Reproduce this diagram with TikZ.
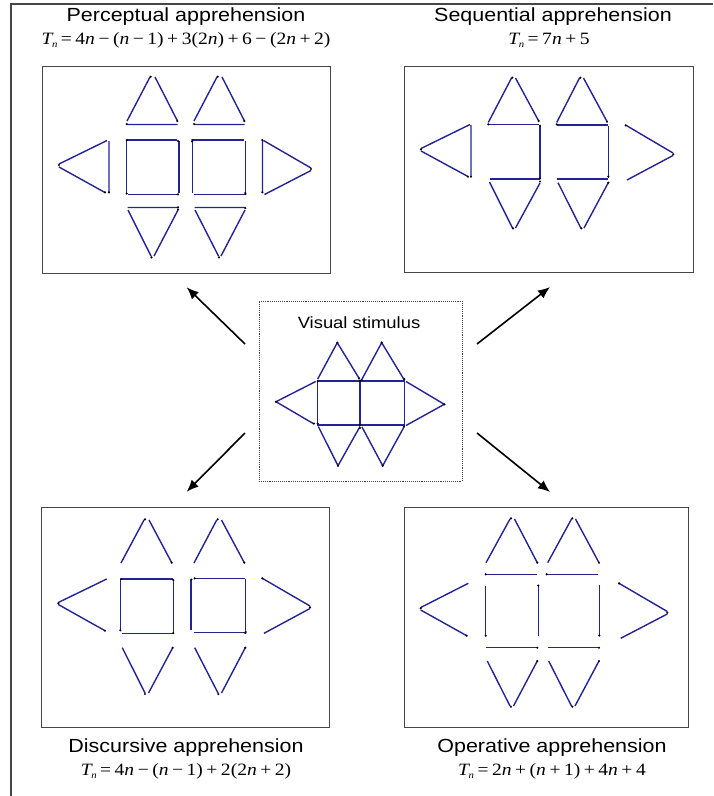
\documentclass[tikz,border=0pt]{standalone}
\usepackage{fontspec}
\setmainfont{Liberation Sans}
\newfontfamily\tms{Liberation Serif}
\usetikzlibrary{arrows.meta}
\newcommand{\vv}[1]{\textit{#1}}
\newcommand{\Tn}{\textit{T}\kern-0.08em\raisebox{-0.4ex}{\scalebox{0.55}{\textit{n}}}}
\newcommand{\op}[1]{\hspace{0.18em}#1\hspace{0.18em}}
\newcommand{\wide}[1]{\scalebox{1.13}[1]{#1}}
\definecolor{navy}{RGB}{35,35,150}
\definecolor{framegray}{RGB}{70,70,70}
\tikzset{
  seg/.style={draw=navy,line width=1.4pt,line cap=butt},
  panel/.style={draw=framegray,line width=1pt,inner sep=0pt,outer sep=0pt},
  stim/.style={draw=framegray,line width=0.9pt,densely dotted,inner sep=0pt,outer sep=0pt},
  ttl/.style={font=\fontsize{19}{22}\selectfont,inner sep=0pt},
  frm/.style={font=\tms\fontsize{17.3}{20}\selectfont,inner sep=0pt},
  arr/.style={draw=black,line width=1.6pt,-{Latex[length=12pt,width=10pt]}},
  pt/.style={fill=black}
}
\begin{document}
\begin{tikzpicture}[x=1pt,y=-1pt]
\useasboundingbox (0,0) rectangle (713,796);
% outer frame (top and left edges)
\draw[draw=framegray,line width=1.4pt] (11,796) -- (11,4) -- (713,4);

% panels
\node[panel,minimum width=288pt,minimum height=207pt] (p1) at (186,169.5) {};
\node[panel,minimum width=289pt,minimum height=206pt] (p2) at (548.5,169) {};
\node[panel,minimum width=288pt,minimum height=220pt] (p3) at (185,617) {};
\node[panel,minimum width=284pt,minimum height=220pt] (p4) at (546,617) {};
\node[stim,minimum width=203pt,minimum height=180pt] (c) at (360.5,391) {};

% titles
\node[ttl] (t1) at (186,17) {\wide{Perceptual apprehension}};
\node[frm] (f1) at (186,40) {\wide{\Tn\op{=}4\vv{n}\op{−}(\vv{n}\op{−}1)\op{+}3(2\vv{n})\op{+}6\op{−}(2\vv{n}\op{+}2)}};
\node[ttl] (t2) at (553,17) {\wide{Sequential apprehension}};
\node[frm] (f2) at (549,40) {\wide{\Tn\op{=}7\vv{n}\op{+}5}};
\node[ttl] (t3) at (186,748) {\wide{Discursive apprehension}};
\node[frm] (f3) at (186,771) {\wide{\Tn\op{=}4\vv{n}\op{−}(\vv{n}\op{−}1)\op{+}2(2\vv{n}\op{+}2)}};
\node[ttl] (t4) at (552,748) {\wide{Operative apprehension}};
\node[frm] (f4) at (552,771) {\wide{\Tn\op{=}2\vv{n}\op{+}(\vv{n}\op{+}1)\op{+}4\vv{n}\op{+}4}};
\node[ttl,font=\fontsize{16.3}{19}\selectfont] (tc) at (359,323) {\wide{Visual stimulus}};

% arrows
\coordinate (a1s) at (245,344); \coordinate (a1e) at (186.7,287.3);
\coordinate (a2s) at (245,433); \coordinate (a2e) at (186.7,491.7);
\coordinate (a3s) at (477,344); \coordinate (a3e) at (550,287);
\coordinate (a4s) at (477,433); \coordinate (a4e) at (550,492);
\draw[arr] (a1s) -- (a1e);
\draw[arr] (a2s) -- (a2e);
\draw[arr] (a3s) -- (a3e);
\draw[arr] (a4s) -- (a4e);

% ---------- Perceptual ----------
\draw[seg] (150,77)--(127,121) (155,77)--(177.5,121) (127,124.5)--(177.5,124.5);
\draw[seg] (217,77)--(194,121) (222,77)--(244.5,121) (194,124.5)--(244.5,124.5);
\draw[seg] (127,140)--(177,140) (179,141)--(179,193) (128,194.5)--(178,194.5) (126.5,141)--(126.5,193);
\draw[seg] (193,140)--(244,140) (245.5,141)--(245.5,193) (194,194.5)--(245,194.5) (192.5,141)--(192.5,193);
\draw[seg] (127.5,207.5)--(177.5,207.5) (128,210)--(151,256) (178,210)--(154,256);
\draw[seg] (194.5,207.5)--(245,207.5) (195,210)--(218.5,256) (245,210)--(221,256);
\draw[seg] (59,164)--(107,140.5) (59,167)--(105,192.5) (109,141)--(109,192.5);
\draw[seg] (262.5,140.5)--(262.5,192.5) (263.5,140.5)--(311,168) (264.5,194.5)--(311,170.5);
\foreach \p in {(150.7,76.7),(126.7,124),(177.3,121),(217.7,76.7),(194,124),(244.3,121),(126.7,140),(178,141),(178,194.3),(126.7,193.5),(192.3,140),(192,141.5),(245.5,194),(245.3,193),(178,207.3),(178,209.5),(151.5,257.3),(245.3,208),(219,257.3),(59,165),(105,192.3),(109,192.3),(262.3,140),(262.3,192.3),(311,169)}
  \fill[pt] \p circle (1.2pt);

% ---------- Sequential ----------
\draw[seg] (421,148.5)--(470,124.5) (421,151)--(468,176.5) (471,125)--(471,176.7);
\draw[seg] (511.5,78)--(488.3,122.5) (515.5,78)--(538.7,121);
\draw[seg] (489,124.5)--(539,124.5) (540,126)--(540,178.5) (489.5,179)--(539.5,179);
\draw[seg] (489.5,182)--(512.5,228) (540,183)--(515.5,228);
\draw[seg] (579.5,78)--(556.7,122.5) (583.5,78)--(607,121.5);
\draw[seg] (557,125)--(607.5,125) (608.5,126)--(608.5,177.5) (557,179)--(607.5,179);
\draw[seg] (558,182.7)--(580.8,228) (608.3,182.7)--(584,228);
\draw[seg] (626,125.3)--(673,153) (627,180)--(673,155.5);
\foreach \p in {(421,149.3),(468,176.7),(471,176.7),(512.3,77.7),(488.3,124.3),(538.7,121),(540,125.7),(540,178.3),(540,181.5),(513,228.3),(580.3,77.7),(556.7,124.3),(607,121.7),(608.3,176.5),(608.3,182.7),(581.3,228.3),(625.7,125.3),(673.3,154.3)}
  \fill[pt] \p circle (1.2pt);

% ---------- Discursive ----------
\draw[seg] (144,520)--(121,563) (149,520)--(171.7,562.7);
\draw[seg] (216.7,520)--(194,563) (221.5,520)--(244.3,562.7);
\draw[seg] (121,579)--(173.3,579) (173.3,580)--(173.3,632.7) (121.7,633.3)--(173.3,633.3) (120.3,579)--(120.3,630.7);
\draw[seg] (194.7,578.3)--(245,578.3) (245.7,579)--(245.7,632.7) (194,632.7)--(245,632.7) (191,580)--(191,630);
\draw[seg] (58.3,602.5)--(106.7,579) (58.3,604.5)--(105,630.7);
\draw[seg] (262.3,578.3)--(310,606) (264,633.3)--(310,608.5);
\draw[seg] (122.3,647.7)--(145,693) (172.7,647.7)--(148.5,693);
\draw[seg] (194.7,647.7)--(218,693) (245.3,647.7)--(221.5,693);
\foreach \p in {(145,519.3),(171.7,562.7),(217.7,519.3),(244.3,562.7),(121,579),(173.3,580),(173.3,633),(120.3,630.3),(191.3,579.5),(194.7,578.3),(245.7,632),(245.3,633),(58.3,603.3),(105,630.7),(262.3,578.3),(310,607.3),(172.7,647.7),(145,694),(245.3,647.7),(218.3,694)}
  \fill[pt] \p circle (1.2pt);

% ---------- Operative ----------
\draw[seg] (510,519)--(486,562.7) (514.5,519)--(537.3,562.7);
\draw[seg] (571.5,519)--(547.7,562.7) (575.5,519)--(599,562.7);
\draw[seg] (485.7,574.3)--(536.7,574.3) (546.7,574.3)--(598,574.3);
\draw[seg] (485.7,585.7)--(485.7,635.7) (538.3,585)--(538.3,635.7) (599.3,585)--(599.3,635.7);
\draw[seg] (486,647.7)--(537.3,647.7) (547.7,647.7)--(599,647.7);
\draw[seg] (487.3,661)--(510,706) (537.3,661)--(513.5,706);
\draw[seg] (548.7,661)--(571.5,706) (599,661)--(575,706);
\draw[seg] (420.7,607.5)--(468.3,583.3) (420.7,610)--(466.7,635.7);
\draw[seg] (619,583.3)--(667.3,611.5) (620.7,638.3)--(667.3,614);
\foreach \p in {(511,518.3),(537.3,562.7),(572.3,518.3),(599,562.7),(485.7,574.3),(546.7,574.3),(538.3,585.5),(485.7,635.7),(599.3,635.5),(537.3,647.7),(599,647.7),(537.3,661),(599,661),(511,706.7),(572.3,706.7),(420.7,608.3),(466.7,635.7),(619,583.3),(667.3,612.7)}
  \fill[pt] \p circle (1.2pt);

% ---------- Visual stimulus ----------
\draw[seg] (317.7,379)--(337.3,342.7)--(359.5,379);
\draw[seg] (361.5,380)--(381.7,342.7)--(404.3,380);
\draw[seg] (317.7,381) rectangle (404.3,425);
\draw[seg] (360,381)--(360,425);
\draw[seg] (315.7,381.5)--(276,401.7)--(314,424);
\draw[seg] (406,381.5)--(444.3,404.3)--(406,425.5);
\draw[seg] (318.3,426.5)--(338,465.7)--(360,426.5);
\draw[seg] (362,427)--(382.7,465.7)--(404,427);
\foreach \p in {(337.3,342.7),(359,378.3),(317.7,381),(360,381),(361.5,380),(381.7,342.7),(404.3,379),(276,401.7),(314,423.5),(317.7,423.5),(360,425),(360,428),(404,426.5),(444.3,404.3),(338,465.7),(382.7,465.7)}
  \fill[pt] \p circle (1.2pt);
\end{tikzpicture}
\end{document}
